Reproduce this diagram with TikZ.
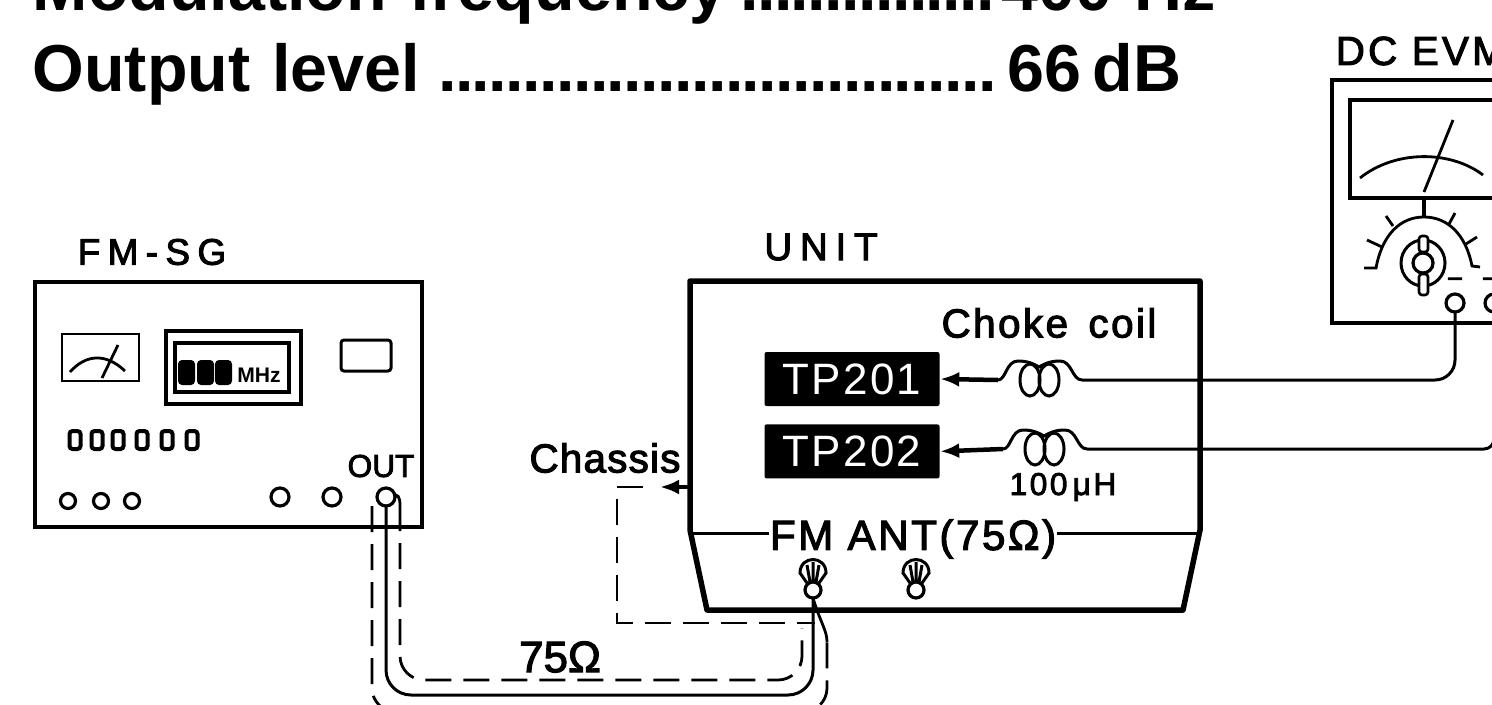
\documentclass[tikz,border=0pt]{standalone}
\usepackage{fontspec}
\setmainfont{Liberation Sans}
\newfontfamily\rigSpaced[LetterSpace=20,FakeBold=2.6]{Liberation Sans}
\newfontfamily\rigFace[FakeBold=2.6]{Liberation Sans}
\usetikzlibrary{arrows.meta,calc,positioning}
\newcommand{\rigDots}{\hspace{4pt}\cleaders\hbox to 4.8pt{\hss.\hss}\hfill\hspace{2pt}}
\tikzset{
  rigFrame/.style={
    rectangle, draw=black, line width=0.32mm, anchor=north west, inner sep=0pt, outer sep=0pt
  },
  rigThin/.style={draw=black, line width=0.28mm},
  rigChassis/.style={draw=black, line width=0.55mm, line join=round},
  rigWire/.style={draw=black, line width=0.3mm},
  rigLead/.style={-{Latex[length=1.9mm,width=1.5mm]}, draw=black, line width=0.45mm},
  rigShield/.style={draw=black, line width=0.28mm, dash pattern=on 2.6mm off 1.2mm},
  rigJack/.style={circle, draw=black, line width=0.32mm, inner sep=0pt, outer sep=0pt, minimum size=#1},
  rigJack/.default=1.5mm,
  rigLamp/.style={
    rectangle, rounded corners=0.3mm, draw=black, line width=0.4mm,
    minimum width=1.1mm, minimum height=1.8mm, inner sep=0pt
  },
  rigTag/.style={
    rectangle, rounded corners=0.2mm, fill=black, text=white, minimum width=17.5mm,
    minimum height=5.4mm, inner sep=0pt, font=\fontsize{12.5}{13}\selectfont\addfontfeature{LetterSpace=5}
  },
  rigLabel/.style={inner sep=0pt, font=\rigSpaced\fontsize{#1}{#1}\selectfont},
  rigLabel/.default=10.5,
  rigText/.style={inner sep=0pt, font=\rigFace\fontsize{#1}{#1}\selectfont},
  rigSpec/.style={anchor=base west, inner sep=0pt, text width=118.3mm, font=\bfseries\fontsize{18.9}{20}\selectfont},
  rigCoil/.pic={
    \draw[rigWire] (0,0) coordinate (-in) .. controls (8,0) and (8,-19) .. (20,-19)
      .. controls (30,-19) and (36,-16) .. (41,-13)
      .. controls (46,-16) and (52,-19) .. (62,-19)
      .. controls (74,-19) and (74,0) .. (84,0) coordinate (-out);
    \draw[rigWire] (32,0) ellipse [x radius=10, y radius=16];
    \draw[rigWire] (51,0) ellipse [x radius=10, y radius=16];
  },
  rigAnt/.pic={
    \node[rigJack=1.6mm] (-eye) at (0,0) {};
    \draw[rigWire] (-6,-7) -- (-13,-17) .. controls (-13,-35) and (13,-35) .. (13,-17) -- (6,-7);
    \draw[rigWire] (-3,-8) -- (-6,-25) (0,-8) -- (0,-28) (3,-8) -- (6,-25);
    \coordinate (-foot) at (0,8);
  }
}
\begin{document}
\begin{tikzpicture}[x=0.1mm,y=-0.1mm]
  \clip (0,0) rectangle (1492,704);
  \fill[white] (0,0) rectangle (1492,704);

  \node[rigSpec] (modline) at (32,11) {Modulation frequency\rigDots 400 Hz};
  \node[rigSpec, text width=114.8mm] (outline) at (32,92) {Output level\rigDots 66\,dB};

  % signal generator
  \node[rigFrame, minimum width=38.7mm, minimum height=24.5mm] (fmsg) at (35,282) {};
  \node[rigLabel] (fmsglabel) at (152,252) {FM-SG};
  \node[rigFrame, minimum width=7.7mm, minimum height=4.7mm, line width=0.28mm] (sgmeter) at (62,334) {};
  \draw[rigThin] (70,372) .. controls (85,355) and (105,352) .. (125,371);
  \draw[rigThin] (102,378) -- (118,345);
  \node[rigFrame, minimum width=13.5mm, minimum height=7.3mm] (sgdisplay) at (166,331) {};
  \node[rigFrame, minimum width=11.4mm, minimum height=4.9mm] (sgwindow) at (175,343) {};
  \foreach \x in {178,197,215}
    \fill[black, rounded corners=0.4mm] (\x,360) rectangle ++(17,25);
  \node[inner sep=0pt, font=\bfseries\fontsize{6}{6}\selectfont] (sgunit) at (259,375) {MHz};
  \node[rigFrame, rounded corners=0.3mm, minimum width=5mm, minimum height=3.1mm, line width=0.3mm] (sgbutton) at (341,340) {};
  \foreach \x [count=\i] in {75,97,118,142,167,192}
    \node[rigLamp] (lamp\i) at (\x,440) {};
  \foreach \x [count=\i] in {68,101,132}
    \node[rigJack] (sgjack\i) at (\x,501) {};
  \foreach \x [count=\i] in {280,332}
    \node[rigJack=1.8mm] (sgdial\i) at (\x,497) {};
  \node[rigJack=1.8mm] (outjack) at (386,497) {};
  \node[rigText=9] (outlabel) at (381,466) {OUT};

  % unit under test
  \coordinate (unitnw) at (690,281);
  \draw[rigChassis] (unitnw) -- (1200,281) -- (1200,530) -- (1183,610) -- (707,610) -- (690,530) -- cycle;
  \node[rigLabel=11] (unitlabel) at (821,247) {UNIT};
  \node[rigTag] (tp201) at (852,379) {TP201};
  \node[rigTag, below=1.7mm of tp201] (tp202) {TP202};
  \node[rigText=11.5] (chokelabel) at (1049,323) {\addfontfeature{LetterSpace=6}Choke\, coil};
  \node[rigText=9] (coilvalue) at (1063,487) {\addfontfeature{LetterSpace=8}100\,μH};
  \node[rigText=11.5] (chassislabel) at (605,458) {\addfontfeature{LetterSpace=3}Chassis};
  \node[rigText=12] (antlabel) at (913,539) {\addfontfeature{LetterSpace=6}FM ANT(75Ω)};
  \coordinate (antleft) at (693,533);
  \coordinate (antright) at (1197,533);
  \draw[rigWire] (antleft) -- (antleft -| antlabel.west);
  \draw[rigWire] (antright -| antlabel.east) -- (antright);
  \pic (anta) at (813,590) {rigAnt};
  \pic (antb) at (916,590) {rigAnt};

  \pic (coila) at (998,380) {rigCoil};
  \pic (coilb) at (1003,449) {rigCoil};
  \draw[rigLead] (coila-in) -- (tp201.east);
  \draw[rigLead] (coilb-in) -- (tp202.east);

  % chassis lead and cable
  \coordinate (chassispt) at (690,487);
  \coordinate (chassistip) at (660,487);
  \coordinate (loopstart) at (643,487);
  \coordinate (loopcorner) at (617,487);
  \coordinate (loopend) at (815,623);
  \draw[rigLead] (chassispt) -- (chassistip);
  \draw[rigShield] (loopstart) -- (loopcorner) |- (loopend);

  \coordinate (cablemid) at (600,695);
  \coordinate (innerstart) at (400,505);
  \coordinate (innermid) at (600,680);
  \coordinate (innerend) at (802,628);
  \coordinate (outerstart) at (372,506);
  \coordinate (outermid) at (600,712);
  \coordinate (outerend) at (827,642);
  \draw[rigWire, rounded corners=2.5mm] (outjack.south) |- (cablemid) -| (anta-foot);
  \draw[rigShield, rounded corners=2.4mm] (innerstart) |- (innermid) -| (innerend);
  \draw[rigShield, rounded corners=2.4mm] (outerstart) |- (outermid) -| (outerend);
  \draw[rigThin] (innerstart) .. controls (400,497) and (397,493) .. (outjack.east);
  \draw[rigThin] (outerend) .. controls (827,630) and (820,622) .. (anta-foot);
  \node[rigText=12.5] (cablelabel) at (560,657) {75Ω};

  % voltmeter
  \node[rigText=11.5, anchor=west] (evmlabel) at (1335,51) {\addfontfeature{LetterSpace=8}DC EVM};
  \node[rigFrame, minimum width=20mm, minimum height=24.3mm] (evm) at (1332,80) {};
  \node[rigFrame, minimum width=18mm, minimum height=9.8mm] (evmmeter) at (1350,100) {};
  \draw[rigThin] (1360,178) .. controls (1395,150) and (1450,150) .. (1483,175);
  \draw[rigThin] (1424,192) -- (1453,120);
  \coordinate (dialtop) at (1424,217);
  \draw[rigChassis, line width=0.4mm] (evmmeter.south west -| dialtop) -- (dialtop);
  \draw[rigThin] (1364,268) -- (1376,268) .. controls (1382,235) and (1400,217) .. (dialtop)
    .. controls (1448,217) and (1466,235) .. (1472,266) -- (1480,267);
  \draw[rigThin] (1367,240) -- (1382,247) (1386,216) -- (1393,226) (1455,213) -- (1449,224) (1477,237) -- (1466,244);
  \node[rigJack=2mm] (knob) at (1423,263) {};
  \draw[rigWire] (knob) ellipse [x radius=22, y radius=23];
  \draw[black, line width=0.26mm, fill=white, rounded corners=0.3mm] (1419,236) rectangle (1428,252);
  \draw[black, line width=0.26mm, fill=white, rounded corners=0.3mm] (1419,274) rectangle (1428,295);
  \node[rigText=8] (minusa) at (1455,283) {−};
  \node[rigText=8] (minusb) at (1490,283) {−};
  \node[rigJack=1.8mm] (evmneg) at (1455,303) {};
  \node[rigJack=1.8mm] (evmpos) at (1494,303) {};
  \draw[rigWire, rounded corners=2mm] (coila-out) -| (evmneg.south);
  \draw[rigWire, rounded corners=1mm] (coilb-out) -| (evmpos.south);
\end{tikzpicture}
\end{document}
